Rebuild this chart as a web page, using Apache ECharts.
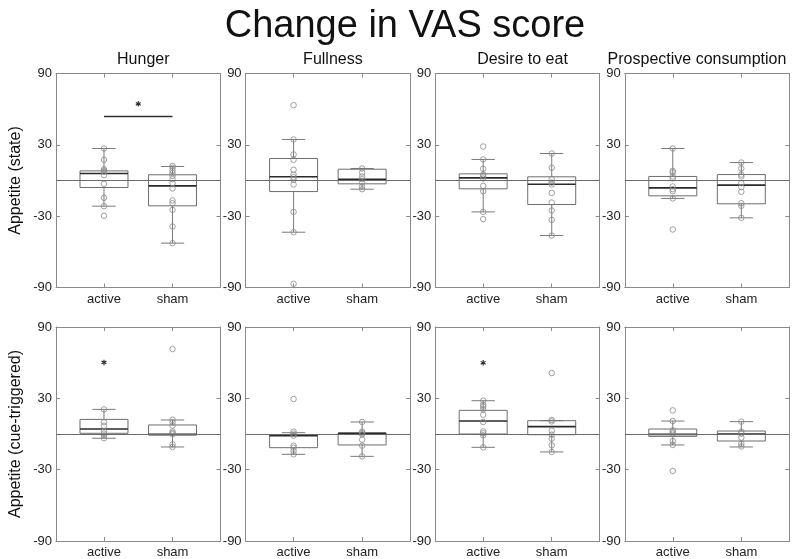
<!DOCTYPE html>
<html>
<head>
<meta charset="utf-8">
<script src="https://cdn.jsdelivr.net/npm/echarts@6/dist/echarts.min.js"></script>
<style>
html,body{margin:0;padding:0;background:#fff;}
#main{width:800px;height:559px;}
</style>
</head>
<body>
<div id="main"></div>
<script>
// ---------- data ----------
const mainTitle = 'Change in VAS score';
const panelTitles = ['Hunger', 'Fullness', 'Desire to eat', 'Prospective consumption'];
const rowTitles = ['Appetite (state)', 'Appetite (cue-triggered)'];
const groups = ['active', 'sham'];
const yTicks = [-90, -30, 30, 90];

// box stats: [lowerWhisker, q1, median, q3, upperWhisker]
const stateBoxActive = [
  [-21.6, -5.9, 5.9, 8.1, 26.9],
  [-43.5, -9.3, 3.1, 18.5, 34.5],
  [-26.4, -7.0, 2.2, 5.6, 17.7],
  [-15.1, -12.9, -6.2, 3.4, 26.9]
];
const stateBoxSham = [
  [-52.7, -21.3, -4.5, 4.8, 11.8],
  [-7.3, -2.8, 1.1, 9.5, 10.1],
  [-46.3, -20.2, -3.1, 3.1, 22.7],
  [-31.4, -19.6, -3.9, 5.0, 15.1]
];
const cueBoxActive = [
  [-3.6, 0.6, 4.2, 12.3, 20.7],
  [-17.1, -11.5, -1.4, -0.8, 1.1],
  [-11.2, 0.0, 10.9, 19.9, 28.0],
  [-9.2, -2.0, -0.3, 4.2, 10.9]
];
const cueBoxSham = [
  [-10.9, -0.8, -0.3, 7.6, 11.8],
  [-18.8, -9.2, 0.6, 0.8, 10.1],
  [-15.1, -0.6, 6.2, 11.2, 11.2],
  [-10.9, -5.9, 0.0, 2.5, 10.4]
];

// individual participants
const statePtsActive = [
  [26.9, 17.4, 9.5, 8.4, 7.3, 4.5, -2.8, -14.6, -21.6, -29.7],
  [63.4, 34.5, 21.9, 17.4, 9.0, 5.0, 2.8, 0.6, -3.4, -26.4, -43.5, -86.9],
  [28.6, 17.7, 9.8, 5.0, 3.4, 1.7, -4.5, -9.0, -26.4, -32.5],
  [26.9, 8.1, 6.7, 3.4, 1.7, -5.0, -7.3, -9.0, -15.1, -41.2]
];
const statePtsSham = [
  [12.3, 10.7, 8.4, 6.2, 3.9, 1.1, -2.2, -6.7, -16.8, -19.1, -24.7, -38.7, -52.7],
  [10.1, 6.7, 3.4, 1.1, -1.7, -5.0, -7.3],
  [22.7, 10.7, 1.1, -1.7, -3.4, -10.4, -18.5, -25.2, -33.1, -46.3],
  [15.1, 10.1, 5.0, 3.4, -2.2, -5.6, -9.5, -19.1, -21.3, -31.4]
];
const cuePtsActive = [
  [20.7, 9.8, 7.0, 2.0, 0.3, -1.4, -3.6],
  [29.4, 2.0, 0.3, -1.4, -9.8, -11.5, -14.3, -17.1],
  [28.0, 24.6, 23.0, 20.7, 16.2, 10.1, 2.2, 0.6, -1.1, -11.2],
  [19.9, 10.9, 3.1, 1.4, 0.3, -5.9, -9.2, -31.1]
];
const cuePtsSham = [
  [71.4, 12.0, 9.8, 7.0, 2.0, 0.8, -0.3, -8.7, -10.9],
  [10.1, 2.0, 0.8, -0.3, -4.8, -9.8, -18.8],
  [51.3, 11.8, 10.6, 2.8, -0.6, -3.9, -9.5, -15.1],
  [10.4, 2.0, 0.3, -3.1, -8.1, -10.4]
];

// significance markers: [panelIndex, x, y]
const sigStars = [[0, 1.5, 64.5], [4, 1, 60.2], [6, 1, 59.9]];
// significance bars: [panelIndex, x1, x2, y]
const sigBars = [[0, 1, 2, 53.8]];

// ---------- layout ----------
const FONT = '"Liberation Sans", Arial, Helvetica, sans-serif';
const gridLeft = [56, 245.6, 435.2, 624.8];
const gridTop = [73.5, 327];
const gridW = 164.5, gridH = 214;
const titleCenters = [138.3, 327.9, 517.5, 692];
const frameColor = '#8a8a8a';

const boxes = [[stateBoxActive, stateBoxSham], [cueBoxActive, cueBoxSham]];
const pts = [[statePtsActive, statePtsSham], [cuePtsActive, cuePtsSham]];

const option = {
  animation: false,
  backgroundColor: '#fff',
  textStyle: { fontFamily: FONT },
  title: [],
  grid: [],
  xAxis: [],
  yAxis: [],
  series: [],
  graphic: []
};

option.title.push({
  text: mainTitle, left: 400, top: 3, textAlign: 'center',
  textStyle: { fontSize: 38, fontWeight: 'normal', color: '#111', fontFamily: FONT }
});
panelTitles.forEach((t, c) => {
  option.title.push({
    text: t, left: titleCenters[c], top: 47, textAlign: 'center',
    textStyle: { fontSize: 16, fontWeight: 'normal', color: '#111', fontFamily: FONT }
  });
});
rowTitles.forEach((t, r) => {
  option.graphic.push({
    type: 'text', x: 16, y: gridTop[r] + gridH / 2, rotation: Math.PI / 2,
    style: { text: t, fontSize: 16, fill: '#111', fontFamily: FONT, align: 'center', verticalAlign: 'middle' }
  });
});

function boxRender(params, api) {
  const x = api.value(0);
  const lo = api.coord([x, api.value(1)]);
  const q1 = api.coord([x, api.value(2)]);
  const md = api.coord([x, api.value(3)]);
  const q3 = api.coord([x, api.value(4)]);
  const hi = api.coord([x, api.value(5)]);
  const bw = api.size([0.7, 0])[0];
  const cw = api.size([0.34, 0])[0];
  const cx = lo[0];
  const wl = { stroke: '#7a7a7a', lineWidth: 1 };
  return {
    type: 'group',
    children: [
      { type: 'line', shape: { x1: cx, y1: q3[1], x2: cx, y2: hi[1] }, style: wl },
      { type: 'line', shape: { x1: cx, y1: q1[1], x2: cx, y2: lo[1] }, style: wl },
      { type: 'line', shape: { x1: cx - cw / 2, y1: hi[1], x2: cx + cw / 2, y2: hi[1] }, style: wl },
      { type: 'line', shape: { x1: cx - cw / 2, y1: lo[1], x2: cx + cw / 2, y2: lo[1] }, style: wl },
      { type: 'rect', shape: { x: cx - bw / 2, y: q3[1], width: bw, height: q1[1] - q3[1] },
        style: { fill: 'none', stroke: '#6e6e6e', lineWidth: 1 } },
      { type: 'line', shape: { x1: cx - bw / 2, y1: md[1], x2: cx + bw / 2, y2: md[1] },
        style: { stroke: '#2a2a2a', lineWidth: 1.6 } }
    ]
  };
}

function starRender(params, api) {
  const p = api.coord([api.value(0), api.value(1)]);
  const r = 2.8;
  const st = { stroke: '#222', lineWidth: 1.1 };
  const ch = [];
  for (let k = 0; k < 3; k++) {
    const a = Math.PI / 2 + k * Math.PI / 3;
    ch.push({ type: 'line', shape: { x1: p[0] - r * Math.cos(a), y1: p[1] - r * Math.sin(a), x2: p[0] + r * Math.cos(a), y2: p[1] + r * Math.sin(a) }, style: st });
  }
  return { type: 'group', children: ch };
}

for (let r = 0; r < 2; r++) {
  for (let c = 0; c < 4; c++) {
    const idx = r * 4 + c;
    option.grid.push({ left: gridLeft[c], top: gridTop[r], width: gridW, height: gridH });
    const xBase = {
      gridIndex: idx, type: 'value', min: 0.3, max: 2.7,
      splitLine: { show: false },
      axisLine: { show: true, onZero: false, lineStyle: { color: frameColor, width: 1 } },
      axisTick: { show: true, inside: true, length: 4, customValues: [1, 2], lineStyle: { color: frameColor } }
    };
    option.xAxis.push(Object.assign({}, xBase, {
      position: 'bottom',
      axisLabel: { show: true, customValues: [1, 2], formatter: v => groups[Math.round(v) - 1], color: '#222', fontSize: 13, margin: 5, fontFamily: FONT }
    }));
    option.xAxis.push(Object.assign({}, xBase, { position: 'top', axisLabel: { show: false } }));
    const yBase = {
      gridIndex: idx, type: 'value', min: -90, max: 90,
      splitLine: { show: false },
      axisLine: { show: true, onZero: false, lineStyle: { color: frameColor, width: 1 } },
      axisTick: { show: true, inside: true, length: 4, customValues: yTicks, lineStyle: { color: frameColor } }
    };
    option.yAxis.push(Object.assign({}, yBase, {
      position: 'left',
      axisLabel: { show: true, customValues: yTicks, color: '#222', fontSize: 13, margin: 4, fontFamily: FONT }
    }));
    option.yAxis.push(Object.assign({}, yBase, { position: 'right', axisLabel: { show: false } }));

    const xi = idx * 2, yi = idx * 2;
    const bA = boxes[r][0][c], bS = boxes[r][1][c];
    option.series.push({
      type: 'custom', xAxisIndex: xi, yAxisIndex: yi, renderItem: boxRender,
      encode: { x: 0, y: [1, 2, 3, 4, 5] },
      data: [[1].concat(bA), [2].concat(bS)], silent: true, z: 2
    });
    const pData = pts[r][0][c].map(v => [1, v]).concat(pts[r][1][c].map(v => [2, v]));
    option.series.push({
      type: 'scatter', xAxisIndex: xi, yAxisIndex: yi, data: pData,
      symbol: 'circle', symbolSize: 5.5, silent: true, z: 3,
      itemStyle: { color: 'rgba(0,0,0,0)', borderColor: '#8a8a8a', borderWidth: 1 },
      markLine: {
        silent: true, symbol: ['none', 'none'], label: { show: false },
        lineStyle: { color: '#6a6a6a', type: 'solid', width: 1 },
        data: [{ yAxis: 0 }], animation: false
      }
    });
    const stars = sigStars.filter(s => s[0] === idx).map(s => [s[1], s[2]]);
    if (stars.length) {
      option.series.push({
        type: 'custom', xAxisIndex: xi, yAxisIndex: yi, renderItem: starRender,
        encode: { x: 0, y: 1 }, data: stars, silent: true, z: 4
      });
    }
    sigBars.filter(b => b[0] === idx).forEach(b => {
      option.series.push({
        type: 'line', xAxisIndex: xi, yAxisIndex: yi, data: [[b[1], b[3]], [b[2], b[3]]],
        symbol: 'none', silent: true, lineStyle: { color: '#333', width: 1.5 }, z: 4
      });
    });
  }
}

const chart = echarts.init(document.getElementById('main'), null, { renderer: 'canvas' });
chart.setOption(option);
</script>
</body>
</html>
